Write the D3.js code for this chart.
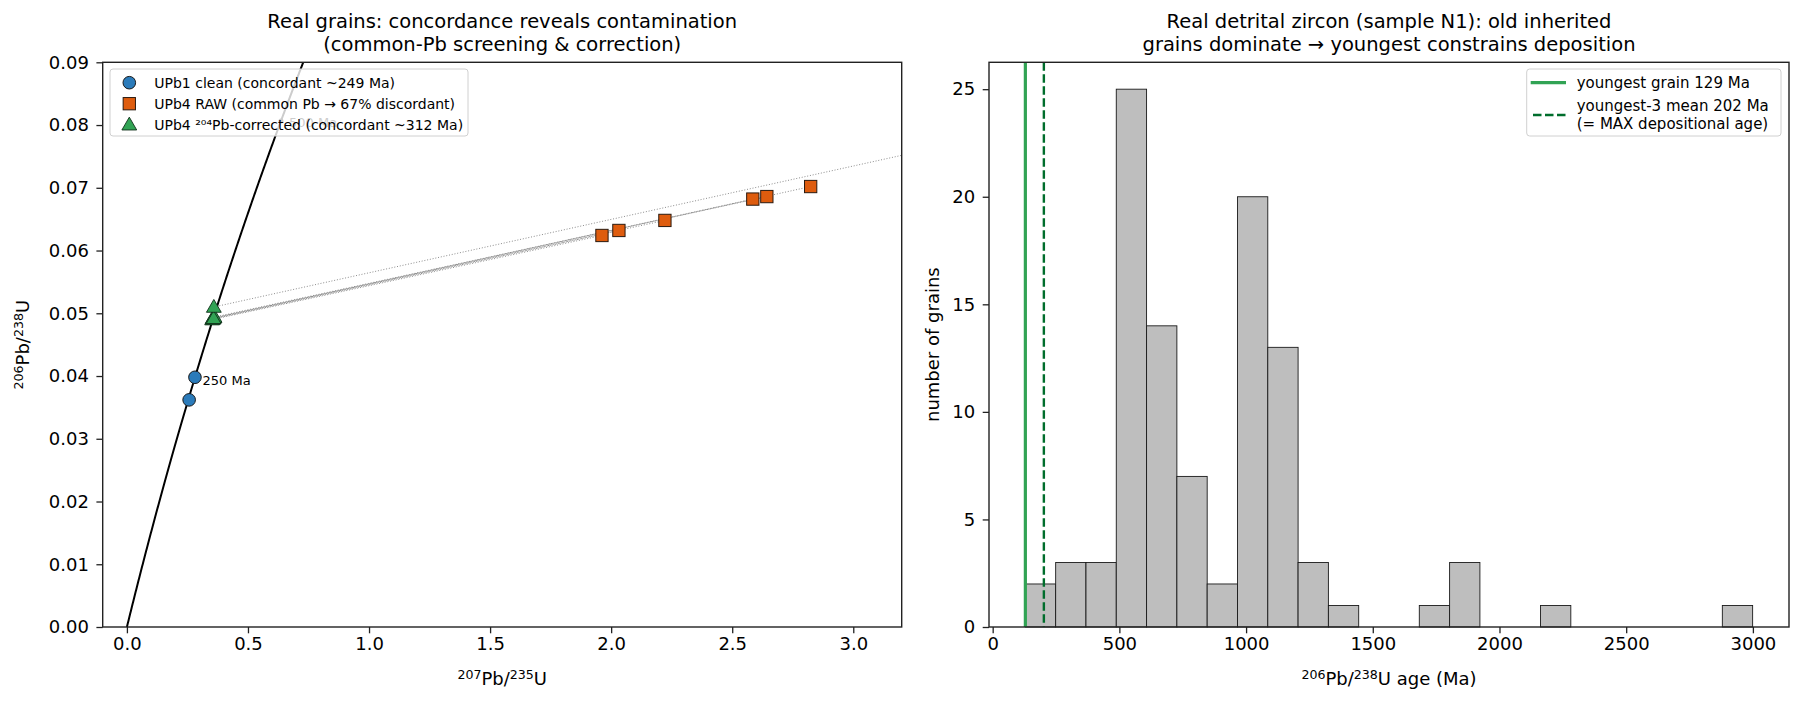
<!DOCTYPE html>
<html>
<head>
<meta charset="utf-8">
<script src="https://cdn.jsdelivr.net/npm/d3@7"></script>
<style>
  body { margin: 0; background: #fff; }
  svg text { font-family: "DejaVu Sans", sans-serif; fill: #000; }
</style>
</head>
<body>
<svg id="chart" width="1802" height="707"></svg>
<script>
// Left panel data
const cleanX = [0.281, 0.257];
const cleanY = [0.0398, 0.0362];
const rawX = [1.962, 2.032, 2.222, 2.585, 2.643, 2.824, 3.45];
const rawY = [0.0624, 0.0632, 0.0648, 0.0682, 0.0686, 0.0702, 0.0773];
const corrX = [0.352, 0.356, 0.360, 0.354, 0.362, 0.358, 0.359];
const corrY = [0.0490, 0.0491, 0.0493, 0.0492, 0.0494, 0.0492, 0.0510];
const ageMarkers = [250, 500];
const leftXTicks = [0, 0.5, 1.0, 1.5, 2.0, 2.5, 3.0];
const leftYTicks = [0, 0.01, 0.02, 0.03, 0.04, 0.05, 0.06, 0.07, 0.08, 0.09];

// Right panel data
const grainMin = 129;
const grainMax = 2999;
const histCounts = [2, 3, 3, 25, 14, 7, 2, 20, 13, 3, 1, 0, 0, 1, 3, 0, 0, 1, 0, 0, 0, 0, 0, 1];
const youngestGrain = 129;
const youngest3Mean = 202;
const rightXTicks = [0, 500, 1000, 1500, 2000, 2500, 3000];
const rightYTicks = [0, 5, 10, 15, 20, 25];

(function () {
    'use strict';

    const CONFIG = {
        colors: {
            clean: '#2b7bba',
            raw: '#de5c0e',
            corrected: '#31a354',
            youngest: '#31a354',
            mean3: '#006d2c',
            bar: '#bebebe',
            frame: '#222'
        },
        tickFont: 18,
        // U decay constants (1/Ma) for the concordia curve
        l238: 1.55125e-4,
        l235: 9.8485e-4
    };

    const svg = d3.select('#chart');

    // superscript-aware text: parts = [[text, isSup], ...]
    function richText(sel, parts, size) {
        parts.forEach(([t, sup]) => {
            sel.append('tspan')
                .attr('font-size', sup ? size * 0.7 : size)
                .attr('baseline-shift', sup ? '45%' : null)
                .text(t);
        });
        return sel;
    }

    function styleAxis(g) {
        g.select('.domain').remove();
        g.selectAll('.tick line').attr('stroke', CONFIG.colors.frame).attr('stroke-width', 1.3);
        g.selectAll('.tick text').attr('font-size', CONFIG.tickFont).attr('fill', '#000');
    }

    function frame(x0, y0, x1, y1) {
        svg.append('rect')
            .attr('x', x0).attr('y', y0)
            .attr('width', x1 - x0).attr('height', y1 - y0)
            .attr('fill', 'none')
            .attr('stroke', CONFIG.colors.frame)
            .attr('stroke-width', 1.4);
    }

    function concordia(t) {
        return [Math.exp(CONFIG.l235 * t) - 1, Math.exp(CONFIG.l238 * t) - 1];
    }

    /* ---------------- Left panel: concordia ---------------- */
    function drawLeft() {
        const L = { x0: 102.7, x1: 901.7, y0: 62.3, y1: 627 };
        const x = d3.scaleLinear().domain([-0.1, 3.2]).range([L.x0, L.x1]);
        const y = d3.scaleLinear().domain([0, 0.09]).range([L.y1, L.y0]);

        svg.append('clipPath').attr('id', 'clipL')
            .append('rect').attr('x', L.x0).attr('y', L.y0)
            .attr('width', L.x1 - L.x0).attr('height', L.y1 - L.y0);

        const plot = svg.append('g').attr('clip-path', 'url(#clipL)');

        // concordia curve
        const ages = d3.range(0, 600, 2);
        plot.append('path')
            .datum(ages.map(concordia))
            .attr('d', d3.line().x(d => x(d[0])).y(d => y(d[1])))
            .attr('fill', 'none')
            .attr('stroke', '#000')
            .attr('stroke-width', 2);

        // age markers
        ageMarkers.forEach(a => {
            const p = concordia(a);
            plot.append('circle').attr('cx', x(p[0])).attr('cy', y(p[1])).attr('r', 2.5).attr('fill', '#000');
            plot.append('text')
                .attr('x', x(p[0]) + 8).attr('y', y(p[1]) + 6)
                .attr('font-size', 13)
                .text(a + ' Ma');
        });

        // common-Pb correction lines
        rawX.forEach((rx, i) => {
            plot.append('line')
                .attr('x1', x(corrX[i])).attr('y1', y(corrY[i]))
                .attr('x2', x(rx)).attr('y2', y(rawY[i]))
                .attr('stroke', '#8c8c8c')
                .attr('stroke-width', 1)
                .attr('stroke-dasharray', '1,1.8');
        });

        // clean grains
        plot.selectAll('.clean').data(cleanX).enter().append('circle')
            .attr('cx', d => x(d)).attr('cy', (d, i) => y(cleanY[i]))
            .attr('r', 6.3)
            .attr('fill', CONFIG.colors.clean)
            .attr('stroke', '#1a1a1a').attr('stroke-width', 1);

        // raw UPb4
        const s = 12.3;
        plot.selectAll('.raw').data(rawX).enter().append('rect')
            .attr('x', d => x(d) - s / 2).attr('y', (d, i) => y(rawY[i]) - s / 2)
            .attr('width', s).attr('height', s)
            .attr('fill', CONFIG.colors.raw)
            .attr('stroke', '#2a1a10').attr('stroke-width', 1);

        // corrected UPb4
        const tri = d3.symbol().type(d3.symbolTriangle).size(95);
        plot.selectAll('.corr').data(corrX).enter().append('path')
            .attr('d', tri)
            .attr('transform', (d, i) => `translate(${x(d)},${y(corrY[i]) + 1})`)
            .attr('fill', CONFIG.colors.corrected)
            .attr('stroke', '#10301a').attr('stroke-width', 0.9);

        // axes
        svg.append('g').attr('transform', `translate(0,${L.y1})`)
            .call(d3.axisBottom(x).tickValues(leftXTicks).tickFormat(d3.format('.1f'))
                .tickSize(6.3).tickPadding(4).tickSizeOuter(0))
            .call(styleAxis);
        svg.append('g').attr('transform', `translate(${L.x0},0)`)
            .call(d3.axisLeft(y).tickValues(leftYTicks).tickFormat(d3.format('.2f'))
                .tickSize(6.3).tickPadding(7.5).tickSizeOuter(0))
            .call(styleAxis);
        frame(L.x0, L.y0, L.x1, L.y1);

        // legend
        const lg = svg.append('g');
        lg.append('rect')
            .attr('x', 110).attr('y', 69).attr('width', 358).attr('height', 67)
            .attr('rx', 3)
            .attr('fill', '#fff').attr('fill-opacity', 0.8)
            .attr('stroke', '#d0d0d0').attr('stroke-width', 1);
        const labels = [
            'UPb1 clean (concordant ~249 Ma)',
            'UPb4 RAW (common Pb \u2192 67% discordant)',
            'UPb4 \u00b2\u2070\u2074Pb-corrected (concordant ~312 Ma)'
        ];
        const mx = 129.3;
        const rows = [82.7, 103.7, 124.7];
        lg.append('circle').attr('cx', mx).attr('cy', rows[0]).attr('r', 6.3)
            .attr('fill', CONFIG.colors.clean).attr('stroke', '#1a1a1a').attr('stroke-width', 1);
        lg.append('rect').attr('x', mx - s / 2).attr('y', rows[1] - s / 2).attr('width', s).attr('height', s)
            .attr('fill', CONFIG.colors.raw).attr('stroke', '#2a1a10').attr('stroke-width', 1);
        lg.append('path').attr('d', tri).attr('transform', `translate(${mx},${rows[2] + 1})`)
            .attr('fill', CONFIG.colors.corrected).attr('stroke', '#10301a').attr('stroke-width', 0.9);
        labels.forEach((t, i) => {
            lg.append('text').attr('x', 154.3).attr('y', rows[i])
                .attr('dy', '0.35em').attr('font-size', 14).text(t);
        });

        // titles and labels
        const cx = (L.x0 + L.x1) / 2;
        svg.append('text').attr('x', cx).attr('y', 28).attr('text-anchor', 'middle')
            .attr('font-size', 19.5).text('Real grains: concordance reveals contamination');
        svg.append('text').attr('x', cx).attr('y', 51).attr('text-anchor', 'middle')
            .attr('font-size', 19.5).text('(common-Pb screening & correction)');

        richText(svg.append('text').attr('x', cx).attr('y', 685).attr('text-anchor', 'middle'),
            [['207', true], ['Pb/', false], ['235', true], ['U', false]], 18);
        richText(svg.append('text')
            .attr('transform', `translate(29,${(L.y0 + L.y1) / 2}) rotate(-90)`)
            .attr('text-anchor', 'middle'),
            [['206', true], ['Pb/', false], ['238', true], ['U', false]], 18);
    }

    /* ---------------- Right panel: histogram ---------------- */
    function drawRight() {
        const R = { x0: 989, x1: 1789, y0: 62.3, y1: 627 };
        const span = grainMax - grainMin;
        const x = d3.scaleLinear()
            .domain([grainMin - 0.05 * span, grainMax + 0.05 * span])
            .range([R.x0, R.x1]);
        const yMax = d3.max(histCounts) * 1.05;
        const y = d3.scaleLinear().domain([0, yMax]).range([R.y1, R.y0]);

        const binW = span / histCounts.length;
        const bins = histCounts.map((c, i) => ({ x0: grainMin + i * binW, x1: grainMin + (i + 1) * binW, n: c }));

        svg.append('g').selectAll('rect').data(bins.filter(b => b.n > 0)).enter().append('rect')
            .attr('x', d => x(d.x0)).attr('y', d => y(d.n))
            .attr('width', d => x(d.x1) - x(d.x0))
            .attr('height', d => y(0) - y(d.n))
            .attr('fill', CONFIG.colors.bar)
            .attr('stroke', '#1a1a1a').attr('stroke-width', 0.9);

        svg.append('line')
            .attr('x1', x(youngestGrain)).attr('x2', x(youngestGrain))
            .attr('y1', R.y0).attr('y2', R.y1)
            .attr('stroke', CONFIG.colors.youngest).attr('stroke-width', 3.2);
        svg.append('line')
            .attr('x1', x(youngest3Mean)).attr('x2', x(youngest3Mean))
            .attr('y1', R.y0).attr('y2', R.y1)
            .attr('stroke', CONFIG.colors.mean3).attr('stroke-width', 2.4)
            .attr('stroke-dasharray', '8.5,3.5');

        svg.append('g').attr('transform', `translate(0,${R.y1})`)
            .call(d3.axisBottom(x).tickValues(rightXTicks).tickFormat(d3.format('d'))
                .tickSize(6.3).tickPadding(4).tickSizeOuter(0))
            .call(styleAxis);
        svg.append('g').attr('transform', `translate(${R.x0},0)`)
            .call(d3.axisLeft(y).tickValues(rightYTicks).tickFormat(d3.format('d'))
                .tickSize(6.3).tickPadding(7.5).tickSizeOuter(0))
            .call(styleAxis);
        frame(R.x0, R.y0, R.x1, R.y1);

        // legend
        const lg = svg.append('g');
        lg.append('rect')
            .attr('x', 1526.7).attr('y', 69).attr('width', 254.3).attr('height', 67)
            .attr('rx', 3)
            .attr('fill', '#fff').attr('fill-opacity', 0.8)
            .attr('stroke', '#d0d0d0').attr('stroke-width', 1);
        lg.append('line').attr('x1', 1530.7).attr('x2', 1566).attr('y1', 82.7).attr('y2', 82.7)
            .attr('stroke', CONFIG.colors.youngest).attr('stroke-width', 3.2);
        lg.append('line').attr('x1', 1533).attr('x2', 1566).attr('y1', 115).attr('y2', 115)
            .attr('stroke', CONFIG.colors.mean3).attr('stroke-width', 2.4)
            .attr('stroke-dasharray', '8.5,3.5');
        const tx = 1576.7;
        lg.append('text').attr('x', tx).attr('y', 82.7).attr('dy', '0.35em').attr('font-size', 15)
            .text('youngest grain ' + youngestGrain + ' Ma');
        lg.append('text').attr('x', tx).attr('y', 105.7).attr('dy', '0.35em').attr('font-size', 15)
            .text('youngest-3 mean ' + youngest3Mean + ' Ma');
        lg.append('text').attr('x', tx).attr('y', 123.3).attr('dy', '0.35em').attr('font-size', 15)
            .text('(= MAX depositional age)');

        const cx = (R.x0 + R.x1) / 2;
        svg.append('text').attr('x', cx).attr('y', 28).attr('text-anchor', 'middle')
            .attr('font-size', 19.5).text('Real detrital zircon (sample N1): old inherited');
        svg.append('text').attr('x', cx).attr('y', 51).attr('text-anchor', 'middle')
            .attr('font-size', 19.5).text('grains dominate \u2192 youngest constrains deposition');

        richText(svg.append('text').attr('x', cx).attr('y', 685).attr('text-anchor', 'middle'),
            [['206', true], ['Pb/', false], ['238', true], ['U age (Ma)', false]], 18);
        svg.append('text')
            .attr('transform', `translate(939,${(R.y0 + R.y1) / 2}) rotate(-90)`)
            .attr('text-anchor', 'middle').attr('font-size', 18)
            .text('number of grains');
    }

    drawLeft();
    drawRight();
})();
</script>
</body>
</html>
